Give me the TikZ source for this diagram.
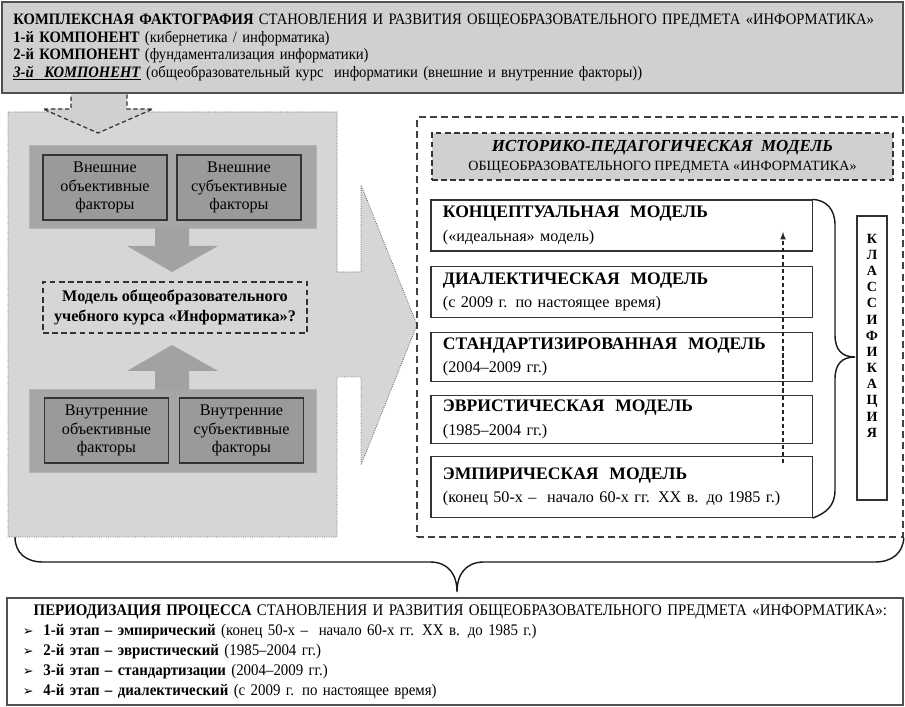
\documentclass[tikz,border=0pt]{standalone}
\usepackage{fontspec}
\setmainfont{Liberation Serif}
\newfontfamily\condfont{Liberation Serif}[FakeStretch=0.92]
\newfontfamily\symfont{DejaVu Sans}
\usepackage{tikz}
\usepackage{xcolor}
\usetikzlibrary{positioning}
\usetikzlibrary{arrows}

\definecolor{framegray}{HTML}{505050}
\definecolor{topgray}{HTML}{D0D0D0}
\definecolor{panelgray}{HTML}{D6D6D6}
\definecolor{bandgray}{HTML}{A6A6A6}
\definecolor{boxgray}{HTML}{9A9A9A}
\definecolor{arrowgray}{HTML}{A2A2A2}

\begin{document}
\begin{tikzpicture}
	[x=0.025cm, y=-0.025cm, node distance=0.35cm,
	topbox/.style = {draw=framegray, line width=1.1pt, fill=topgray, text width=21.95cm, inner xsep=0.29cm, minimum height=2.275cm, align=left, font=\condfont\fontsize{11.3}{12.4}\selectfont},
	perbox/.style = {draw=framegray, line width=1.1pt, fill=white, text width=21.6cm, inner xsep=0.4cm, minimum height=2.675cm, align=left, font=\condfont\fontsize{11.5}{14.2}\selectfont},
	band/.style = {fill=bandgray, draw=bandgray!85!white, minimum width=7.175cm, minimum height=2.075cm},
	factor/.style = {draw=black!80, line width=0.8pt, fill=boxgray, minimum width=3.1cm, minimum height=1.625cm, align=center, font=\fontsize{11.5}{13.2}\selectfont},
	question/.style = {draw=black!80, dash pattern=on 4pt off 2.5pt, line width=0.9pt, minimum width=6.6cm, minimum height=1.275cm, align=center, font=\bfseries\fontsize{11.5}{14}\selectfont},
	model/.style = {draw=black!80, line width=0.8pt, fill=white, text width=8.925cm, inner xsep=0.3cm, align=left, font=\fontsize{11.5}{16.5}\selectfont},
	upline/.style = {draw=black!85, dash pattern=on 3pt off 2pt, line width=0.8pt, -latex},
	curly/.style = {draw=black!90, line width=1pt}]

	\useasboundingbox (0,0) rectangle (905,707);

	% left panel with the big arrow to the right
	\filldraw[fill=panelgray, draw=black!60, densely dotted, line width=0.6pt]
		(8,112) -- (337,112) -- (337,272) -- (361,272) -- (361,185) -- (417,325)
		-- (361,465) -- (361,377) -- (337,377) -- (337,537) -- (8,537) -- cycle;
	\filldraw[fill=topgray, draw=black!80, dash pattern=on 3pt off 2pt, line width=0.9pt]
		(71,80) -- (127,80) -- (127,109) -- (153,109) -- (98,133) -- (43,109) -- (71,109) -- cycle;

	\node[topbox] (top) at (452.5,47.5) {\textbf{КОМПЛЕКСНАЯ ФАКТОГРАФИЯ} СТАНОВЛЕНИЯ И РАЗВИТИЯ ОБЩЕОБРАЗОВАТЕЛЬНОГО ПРЕДМЕТА «ИНФОРМАТИКА»\\
		\textbf{1-й КОМПОНЕНТ} (кибернетика / информатика)\\
		\textbf{2-й КОМПОНЕНТ} (фундаментализация информатики)\\
		\underline{\textbf{\textit{3-й\ \ КОМПОНЕНТ}}} (общеобразовательный курс\ \ информатики (внешние и внутренние факторы))};

	% factors
	\node[band] (bandA) at (172.5,186.5) {};
	\node[factor] (f1) at (105,187.5) {Внешние\\объективные\\факторы};
	\node[factor] (f2) at (239,187.5) {Внешние\\субъективные\\факторы};
	\node[band] (bandB) at (172.5,430.5) {};
	\node[factor] (f3) at (106.5,430.5) {Внутренние\\объективные\\факторы};
	\node[factor] (f4) at (241.5,430.5) {Внутренние\\субъективные\\факторы};
	\fill[arrowgray] (155,227) -- (189,227) -- (189,246) -- (218,246) -- (172,272) -- (127,246) -- (155,246) -- cycle;
	\fill[arrowgray] (155,390) -- (189,390) -- (189,371) -- (218,371) -- (172,345) -- (127,371) -- (155,371) -- cycle;
	\node[question] (q) at (175,307.5) {Модель общеобразовательного\\учебного курса «Информатика»?};

	% models
	\node[draw=black!75, dash pattern=on 5pt off 3pt, line width=1pt, minimum width=12.15cm, minimum height=10.5cm] (rbox) at (660,327) {};
	\node[draw=black!80, dash pattern=on 4pt off 2.5pt, line width=0.9pt, fill=topgray, minimum width=11.525cm, minimum height=1.175cm, align=center, font=\fontsize{10}{13.5}\selectfont] (hdr) at (662.5,156.5)
		{\textbf{\textit{\fontsize{12}{13}\selectfont ИСТОРИКО-ПЕДАГОГИЧЕСКАЯ\ \ МОДЕЛЬ}}\\ОБЩЕОБРАЗОВАТЕЛЬНОГО ПРЕДМЕТА «ИНФОРМАТИКА»};
	\node[model, minimum height=1.275cm] (m1) at (621.5,225.5) {\textbf{\fontsize{12.5}{16.5}\selectfont КОНЦЕПТУАЛЬНАЯ\ \ МОДЕЛЬ}\\(«идеальная» модель)};
	\node[model, minimum height=1.275cm, below=0.35cm of m1] (m2) {\textbf{\fontsize{12.5}{16.5}\selectfont ДИАЛЕКТИЧЕСКАЯ\ \ МОДЕЛЬ}\\(с 2009 г. по настоящее время)};
	\node[model, minimum height=1.225cm, below=0.35cm of m2] (m3) {\textbf{\fontsize{12.5}{16.5}\selectfont СТАНДАРТИЗИРОВАННАЯ\ \ МОДЕЛЬ}\\(2004–2009 гг.)};
	\node[model, minimum height=1.2cm, below=0.325cm of m3] (m4) {\textbf{\fontsize{12.5}{16.5}\selectfont ЭВРИСТИЧЕСКАЯ\ \ МОДЕЛЬ}\\(1985–2004 гг.)};
	\node[model, minimum height=1.525cm, below=0.3cm of m4] (m5) {\textbf{\fontsize{12.5}{16.5}\selectfont ЭМПИРИЧЕСКАЯ\ \ МОДЕЛЬ}\\(конец 50-х –\ \ начало 60-х гг. XX в. до 1985 г.)\\[4pt]};
	\coordinate (up0) at (783,463);
	\coordinate (up1) at (783,232);
	\draw[upline] (up0) -- (up1);

	\draw[curly] (m1.north east) .. controls (826,200) and (835,209) .. (835,225) -- (835,335)
		.. controls (835,350) and (842,357) .. (855,357) .. controls (842,357) and (835,364) .. (835,379)
		-- (835,490) .. controls (835,506) and (826,513) .. (m5.south east);
	\node[draw=black!80, line width=0.8pt, minimum width=0.75cm, minimum height=7.1cm] (cls) at (872,358) {};
	\node[anchor=north, align=center, font=\bfseries\fontsize{10}{11.5}\selectfont] (clstext) at (872,229)
		{К\\Л\\А\\С\\С\\И\\Ф\\И\\К\\А\\Ц\\И\\Я};

	% periodization
	\coordinate (bl) at (15,537);
	\draw[curly] (bl) .. controls (15,553) and (26,562) .. (43,562) -- (430,562)
		.. controls (448,562) and (457,574) .. (457,592) .. controls (457,574) and (466,562) .. (484,562)
		-- (875,562) .. controls (892,562) and (903,553) .. (rbox.south east);
	\node[perbox] (per) at (455,651.5) {\hspace*{0.27cm}\textbf{ПЕРИОДИЗАЦИЯ ПРОЦЕССА} СТАНОВЛЕНИЯ И РАЗВИТИЯ ОБЩЕОБРАЗОВАТЕЛЬНОГО ПРЕДМЕТА «ИНФОРМАТИКА»:\\
		{\symfont\fontsize{9}{10}\selectfont ➢}\hspace{0.25cm}\textbf{1-й этап – эмпирический} (конец 50-х –\ \ начало 60-х гг. XX в. до 1985 г.)\\
		{\symfont\fontsize{9}{10}\selectfont ➢}\hspace{0.25cm}\textbf{2-й этап – эвристический} (1985–2004 гг.)\\
		{\symfont\fontsize{9}{10}\selectfont ➢}\hspace{0.25cm}\textbf{3-й этап – стандартизации} (2004–2009 гг.)\\
		{\symfont\fontsize{9}{10}\selectfont ➢}\hspace{0.25cm}\textbf{4-й этап – диалектический} (с 2009 г. по настоящее время)};
\end{tikzpicture}
\end{document}
